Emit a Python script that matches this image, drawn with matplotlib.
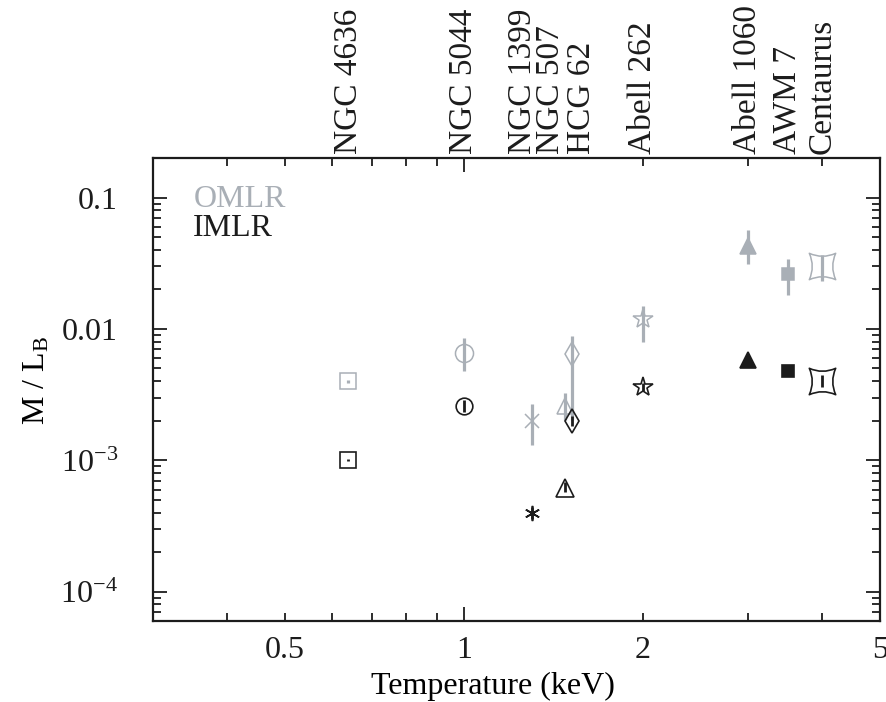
import numpy as np
import matplotlib
matplotlib.use("Agg")
import matplotlib.pyplot as plt
from matplotlib.path import Path
from matplotlib.ticker import FixedLocator, FuncFormatter, NullFormatter

plt.rcParams['font.family'] = ['Liberation Serif', 'DejaVu Serif']
plt.rcParams['mathtext.fontset'] = 'stix'
plt.rcParams['font.size'] = 23

# galaxies / groups / clusters
names = ['NGC 4636', 'NGC 5044', 'NGC 1399', 'NGC 507', 'HCG 62',
         'Abell 262', 'Abell 1060', 'AWM 7', 'Centaurus']
temps = [0.64, 1.0, 1.30, 1.48, 1.52, 2.0, 3.0, 3.5, 4.0]
# where the top labels sit (some are spread apart to avoid overlap)
label_temps = [0.64, 1.0, 1.255, 1.40, 1.575, 2.0, 3.0, 3.5, 4.0]

# outer mass-to-light ratio (grey)
omlr = [4.0e-3, 6.6e-3, 2.0e-3, 2.6e-3, 6.4e-3, 0.0119, 0.043, 0.026, 0.030]
omlr_lo = [3.9e-3, 4.8e-3, 1.3e-3, 2.03e-3, 2.03e-3, 7.9e-3, 0.031, 0.018, 0.023]
omlr_hi = [4.1e-3, 8.5e-3, 2.7e-3, 3.24e-3, 8.9e-3, 0.015, 0.057, 0.034, 0.0365]

# inner mass-to-light ratio (black)
imlr = [1.0e-3, 2.6e-3, 4.0e-4, 6.2e-4, 2.0e-3, 3.6e-3, 5.8e-3, 4.8e-3, 4.0e-3]
imlr_lo = [0.98e-3, 2.35e-3, 3.6e-4, 5.7e-4, 1.83e-3, 3.35e-3, 5.8e-3, 4.8e-3, 3.6e-3]
imlr_hi = [1.02e-3, 2.9e-3, 4.4e-4, 6.8e-4, 2.18e-3, 3.9e-3, 5.8e-3, 4.8e-3, 4.45e-3]

GREY = '#a9afb6'
BLACK = '#1c1c1c'

# concave-sided square ("bowtie") marker
bow_verts = [(-1, -1), (0, -0.55), (1, -1), (0.55, 0), (1, 1), (0, 0.55),
             (-1, 1), (-0.55, 0), (-1, -1), (-1, -1)]
bow_codes = [Path.MOVETO, Path.CURVE3, Path.CURVE3, Path.CURVE3, Path.CURVE3,
             Path.CURVE3, Path.CURVE3, Path.CURVE3, Path.CURVE3, Path.CLOSEPOLY]
bowtie = Path(bow_verts, bow_codes)

# (marker, size, filled) for grey and black symbols
grey_marks = [('s', 11, False), ('o', 13, False), ('x', 10, False), ('^', 12, False),
              ('d', 12, False), ('*', 15, False), ('^', 12, True), ('s', 8, True),
              (bowtie, 19, False)]
black_marks = [('s', 11, False), ('o', 12, False), ((6, 2, 0), 11, False), ('^', 13, False),
               ('d', 12, False), ('*', 15, False), ('^', 12, True), ('s', 8, True),
               (bowtie, 19, False)]

fig = plt.figure(figsize=(8.87, 7.02), dpi=100)
ax = fig.add_axes([0.172, 0.1155, 0.82, 0.6595])

for i in range(len(temps)):
    m, s, f = grey_marks[i]
    ax.errorbar([temps[i]], [omlr[i]],
                yerr=[[omlr[i] - omlr_lo[i]], [omlr_hi[i] - omlr[i]]],
                fmt='none', ecolor=GREY, elinewidth=2.3, capsize=0, zorder=2)
    ax.plot([temps[i]], [omlr[i]], marker=m, ms=s, ls='none',
            mec=GREY, mfc=GREY if f else 'none', mew=1.1, zorder=3)
    m, s, f = black_marks[i]
    ax.errorbar([temps[i]], [imlr[i]],
                yerr=[[imlr[i] - imlr_lo[i]], [imlr_hi[i] - imlr[i]]],
                fmt='none', ecolor=BLACK, elinewidth=2.0, capsize=0, zorder=4)
    ax.plot([temps[i]], [imlr[i]], marker=m, ms=s, ls='none',
            mec=BLACK, mfc=BLACK if f else 'none', mew=1.2, zorder=5)

ax.set_xscale('log')
ax.set_yscale('log')
ax.set_xlim(0.3, 5)
ax.set_ylim(6e-5, 0.2)

# x ticks: long tick at 1, short ticks elsewhere
ax.xaxis.set_major_locator(FixedLocator([1]))
ax.xaxis.set_major_formatter(FuncFormatter(lambda v, p: '1'))
ax.xaxis.set_minor_locator(FixedLocator([0.4, 0.5, 0.6, 0.7, 0.8, 0.9, 2, 3, 4, 5]))
xlabs = {0.5: '0.5', 2: '2', 5: '5'}
ax.xaxis.set_minor_formatter(FuncFormatter(lambda v, p: xlabs.get(round(v, 2), '')))

ylabs = {0.1: '0.1', 0.01: '0.01', 1e-3: r'10$^{\mathregular{-3}}$', 1e-4: r'10$^{\mathregular{-4}}$'}
ax.yaxis.set_major_locator(FixedLocator([1e-4, 1e-3, 1e-2, 1e-1]))
ax.yaxis.set_major_formatter(FuncFormatter(lambda v, p: ylabs.get(min(ylabs, key=lambda k: abs(np.log10(k) - np.log10(v))), '')))
ax.yaxis.set_minor_locator(FixedLocator([k * 10.0 ** e for e in range(-5, 0) for k in range(2, 10)]))
ax.yaxis.set_minor_formatter(NullFormatter())

ax.tick_params(which='both', direction='in', top=True, right=True, width=1.3, colors=BLACK)
ax.tick_params(which='major', length=10)
ax.tick_params(which='minor', length=5.5)
ax.tick_params(axis='y', which='both', pad=25)
ax.tick_params(axis='x', which='both', pad=11)
for sp in ax.spines.values():
    sp.set_linewidth(1.6)
    sp.set_color(BLACK)

ax.set_xlabel('Temperature (keV)', labelpad=5)
ax.set_ylabel(r'M / L$_{\mathregular{B}}$', labelpad=6)
ax.xaxis.label.set_x(0.468)
ax.yaxis.label.set_y(0.52)

# object names along the top
trans = ax.get_xaxis_transform()
for name, t in zip(names, label_temps):
    ax.text(t, 1.008, name, transform=trans, rotation=90, ha='center', va='bottom',
            color=BLACK, fontsize=24)

ax.text(0.056, 0.894, 'OMLR', transform=ax.transAxes, color=GREY)
ax.text(0.056, 0.832, 'IMLR', transform=ax.transAxes, color=BLACK)

fig.savefig('out.png', dpi=100)
